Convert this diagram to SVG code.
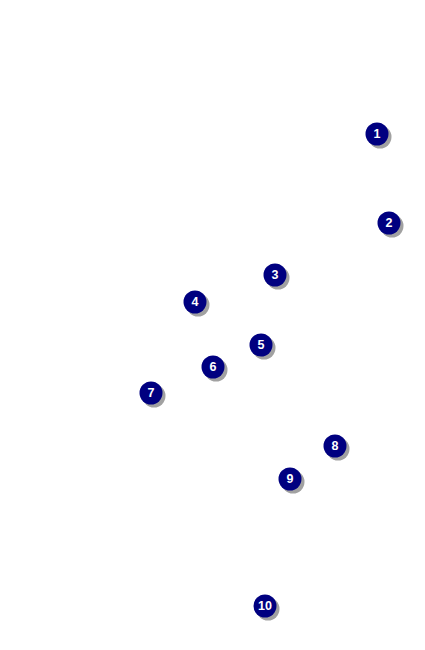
<svg xmlns="http://www.w3.org/2000/svg" width="425" height="650" viewBox="0 0 425 650">
<defs>
<style>
.sh{fill:#8a8a8a;opacity:0.8}
.c{fill:#000080}
.t{fill:#ffffff;font-family:"Liberation Sans",Arial,sans-serif;font-weight:bold;font-size:12.5px;text-anchor:middle;dominant-baseline:central}
</style>
<g id="m"><circle class="sh" cx="3" cy="3" r="11.5"/><circle class="c" cx="0" cy="0" r="11.5"/></g>
</defs>
<rect width="425" height="650" fill="#ffffff"/>
<g id="n1" transform="translate(377,134)"><use href="#m"/><text class="t" x="0" y="0">1</text></g>
<g id="n2" transform="translate(389,223)"><use href="#m"/><text class="t" x="0" y="0">2</text></g>
<g id="n3" transform="translate(275,275)"><use href="#m"/><text class="t" x="0" y="0">3</text></g>
<g id="n4" transform="translate(195,302)"><use href="#m"/><text class="t" x="0" y="0">4</text></g>
<g id="n5" transform="translate(261,345)"><use href="#m"/><text class="t" x="0" y="0">5</text></g>
<g id="n6" transform="translate(213,367)"><use href="#m"/><text class="t" x="0" y="0">6</text></g>
<g id="n7" transform="translate(151,393)"><use href="#m"/><text class="t" x="0" y="0">7</text></g>
<g id="n8" transform="translate(335,446)"><use href="#m"/><text class="t" x="0" y="0">8</text></g>
<g id="n9" transform="translate(290,479)"><use href="#m"/><text class="t" x="0" y="0">9</text></g>
<g id="n10" transform="translate(265,606)"><use href="#m"/><text class="t" x="0" y="0">10</text></g>
<g id="connectors"/>
</svg>
